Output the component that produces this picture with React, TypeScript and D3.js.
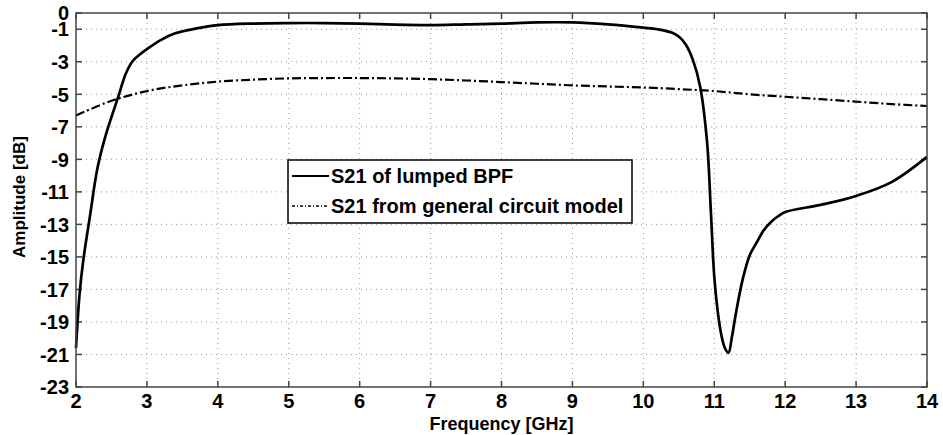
import React from "react";
import * as d3 from "d3";

const freqSolid = [2, 2.05, 2.1, 2.2, 2.3, 2.4, 2.5, 2.6, 2.7, 2.8, 2.9, 3.0, 3.2, 3.4, 3.7, 4.0, 4.5, 5, 5.5, 6, 6.5, 7, 7.5, 8, 8.5, 9, 9.5, 10, 10.2, 10.4, 10.5, 10.6, 10.7, 10.8, 10.9, 10.95, 11.0, 11.05, 11.1, 11.15, 11.2, 11.25, 11.3, 11.4, 11.5, 11.6, 11.7, 11.8, 11.9, 12, 12.5, 13, 13.5, 14];
const s21Lumped = [-20.6, -17.3, -15.3, -12.4, -9.6, -7.8, -6.4, -5.1, -3.75, -2.95, -2.55, -2.22, -1.65, -1.25, -0.95, -0.75, -0.65, -0.62, -0.62, -0.65, -0.72, -0.75, -0.7, -0.65, -0.58, -0.58, -0.7, -0.9, -1.0, -1.2, -1.45, -1.95, -2.9, -4.5, -8.0, -12.0, -16.2, -18.4, -19.8, -20.6, -20.9, -19.9, -18.6, -16.4, -14.9, -14.1, -13.35, -12.85, -12.5, -12.24, -11.8, -11.25, -10.4, -8.85];

const freqModel = [2, 2.5, 3, 3.5, 4, 4.5, 5, 5.5, 6, 6.5, 7, 7.5, 8, 8.5, 9, 9.5, 10, 10.5, 11, 11.5, 12, 12.5, 13, 13.5, 14];
const s21Model = [-6.3, -5.4, -4.8, -4.45, -4.22, -4.1, -4.02, -4.0, -4.0, -4.02, -4.07, -4.15, -4.25, -4.35, -4.45, -4.52, -4.58, -4.68, -4.8, -5.0, -5.15, -5.3, -5.45, -5.6, -5.72];

const xTicks = [2, 3, 4, 5, 6, 7, 8, 9, 10, 11, 12, 13, 14];
const yTicks = [0, -1, -3, -5, -7, -9, -11, -13, -15, -17, -19, -21, -23];
const legendLabels = ["S21 of lumped BPF", "S21 from general circuit model"];

const W = 943, H = 435;
const L = 76, R = 927, T = 13, B = 387;
const font = "'Liberation Sans', Arial, sans-serif";

export default function App() {
  const x = d3.scaleLinear().domain([2, 14]).range([L, R]);
  const y = d3.scaleLinear().domain([-23, 0]).range([B, T]);
  const line = d3.line<[number, number]>()
    .x(d => x(d[0])).y(d => y(d[1]))
    .curve(d3.curveCatmullRom.alpha(0.5));
  const solid = line(freqSolid.map((f, i) => [f, s21Lumped[i]] as [number, number])) || "";
  const model = line(freqModel.map((f, i) => [f, s21Model[i]] as [number, number])) || "";
  const grid = "#999";
  const axisCol = "#444";
  const lx = 288, ly = 160, lw = 344, lh = 63;
  return (
    <svg width={W} height={H} style={{ position: "absolute", left: 0, top: 0, background: "#fff" }}>
      <rect x={0} y={0} width={W} height={H} fill="#fff" />
      {xTicks.slice(1, -1).map(t => (
        <line key={"gx" + t} x1={x(t)} x2={x(t)} y1={T} y2={B} stroke={grid} strokeWidth={1} strokeDasharray="1,4" />
      ))}
      {yTicks.slice(1, -1).map(t => (
        <line key={"gy" + t} x1={L} x2={R} y1={y(t)} y2={y(t)} stroke={grid} strokeWidth={1} strokeDasharray="1,4" />
      ))}
      {xTicks.map(t => (
        <g key={"tx" + t}>
          <line x1={x(t)} x2={x(t)} y1={B} y2={B - 6} stroke={axisCol} strokeWidth={1.5} />
          <line x1={x(t)} x2={x(t)} y1={T} y2={T + 6} stroke={axisCol} strokeWidth={1.5} />
          <text x={x(t)} y={408} textAnchor="middle" fontFamily={font} fontWeight="bold" fontSize={20} fill="#000">{t}</text>
        </g>
      ))}
      {yTicks.map(t => (
        <g key={"ty" + t}>
          <line x1={L} x2={L + 6} y1={y(t)} y2={y(t)} stroke={axisCol} strokeWidth={1.5} />
          <line x1={R} x2={R - 6} y1={y(t)} y2={y(t)} stroke={axisCol} strokeWidth={1.5} />
          <text x={69} y={y(t)} dy="0.36em" textAnchor="end" fontFamily={font} fontWeight="bold" fontSize={20} fill="#000">{t}</text>
        </g>
      ))}
      <path d={model} fill="none" stroke="#000" strokeWidth={2.2} strokeDasharray="9,3,2,3" />
      <path d={solid} fill="none" stroke="#000" strokeWidth={2.7} />
      <rect x={L} y={T} width={R - L} height={B - T} fill="none" stroke={axisCol} strokeWidth={1.5} />
      <rect x={lx} y={ly} width={lw} height={lh} fill="#fff" stroke="#000" strokeWidth={1.5} />
      <line x1={lx + 4} x2={lx + 41} y1={ly + 16} y2={ly + 16} stroke="#000" strokeWidth={2.2} />
      <line x1={lx + 4} x2={lx + 41} y1={ly + 46} y2={ly + 46} stroke="#000" strokeWidth={1.5} strokeDasharray="3,2,1,2" />
      <text x={lx + 43} y={ly + 16} dy="0.36em" fontFamily={font} fontWeight="bold" fontSize={20} fill="#000">{legendLabels[0]}</text>
      <text x={lx + 43} y={ly + 46} dy="0.36em" fontFamily={font} fontWeight="bold" fontSize={20} fill="#000">{legendLabels[1]}</text>
      <text x={(L + R) / 2} y={430} textAnchor="middle" fontFamily={font} fontWeight="bold" fontSize={18} fill="#000">Frequency [GHz]</text>
      <text transform={`translate(25,197) rotate(-90)`} textAnchor="middle" fontFamily={font} fontWeight="bold" fontSize={17} fill="#000">Amplitude [dB]</text>
    </svg>
  );
}
